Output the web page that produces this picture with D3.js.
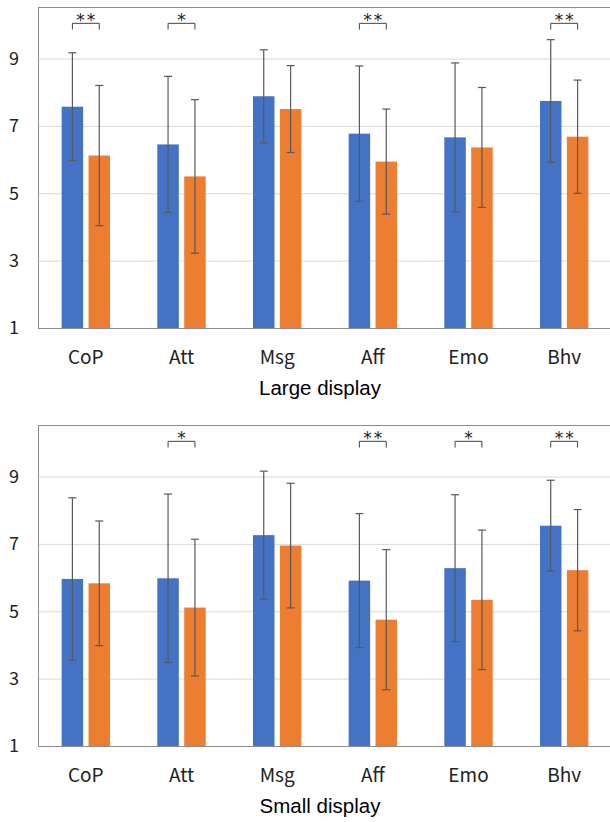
<!DOCTYPE html>
<html>
<head>
<meta charset="utf-8">
<script src="https://cdn.jsdelivr.net/npm/d3@7"></script>
<style>
  html, body { margin: 0; padding: 0; background: #fff; }
  svg { display: block; }
</style>
</head>
<body>
<svg id="chart" width="610" height="822"></svg>
<script>
const categories = ["CoP", "Att", "Msg", "Aff", "Emo", "Bhv"];
const yTicks = [1, 3, 5, 7, 9];

// Large display
const largeBlue = [7.57, 6.45, 7.88, 6.77, 6.66, 7.74];
const largeBlueSd = [1.6, 2.02, 1.38, 2.01, 2.21, 1.82];
const largeOrange = [6.12, 5.5, 7.5, 5.94, 6.36, 6.68];
const largeOrangeSd = [2.08, 2.28, 1.29, 1.56, 1.78, 1.68];
const largeSig = ["**", "*", "", "**", "", "**"];

// Small display
const smallBlue = [5.96, 5.98, 7.26, 5.91, 6.28, 7.54];
const smallBlueSd = [2.41, 2.5, 1.9, 1.99, 2.18, 1.35];
const smallOrange = [5.83, 5.11, 6.95, 4.75, 5.34, 6.22];
const smallOrangeSd = [1.85, 2.03, 1.85, 2.08, 2.07, 1.8];
const smallSig = ["", "*", "", "**", "*", "**"];

const colors = {blue: "#4472C4", orange: "#ED7D31"};

const svg = d3.select("#chart");

const drawPanel = (top, title, blue, blueSd, orange, orangeSd, sig) => {
  const plot = {left: 38, right: 612, top: top, bottom: top + 321};

  const x = d3.scaleBand()
    .domain(categories)
    .range([plot.left, plot.right]);
  const xInner = d3.scaleBand()
    .domain(["blue", "orange"])
    .range([0, x.step()])
    .paddingInner(0.2)
    .paddingOuter(0.88);
  const y = d3.scaleLinear()
    .domain([1, 10.53])
    .range([plot.bottom, plot.top]);

  const g = svg.append("g").attr("class", "panel");

  // gridlines
  g.selectAll(".grid")
    .data(yTicks.filter((t) => t > 1))
    .enter()
    .append("line")
      .attr("class", "grid")
      .attr("x1", plot.left)
      .attr("x2", plot.right)
      .attr("y1", (d) => y(d) + 0.5)
      .attr("y2", (d) => y(d) + 0.5)
      .attr("stroke", "#D9D9D9")
      .attr("stroke-width", 1);

  // frame
  g.append("rect")
    .attr("x", plot.left + 0.5)
    .attr("y", plot.top + 0.5)
    .attr("width", plot.right - plot.left)
    .attr("height", plot.bottom - plot.top)
    .attr("fill", "none")
    .attr("stroke", "#8C8C8C")
    .attr("stroke-width", 1);

  // y tick labels
  g.selectAll(".ytick")
    .data(yTicks)
    .enter()
    .append("text")
      .attr("class", "ytick")
      .attr("x", 14)
      .attr("y", (d) => y(d))
      .attr("dy", "0.36em")
      .attr("text-anchor", "middle")
      .attr("font-family", "'Noto Sans CJK JP', 'Noto Sans', sans-serif")
      .attr("font-size", 18)
      .attr("fill", "#222")
      .text((d) => d);

  const rows = categories.map((c, i) => [
    {cat: c, key: "blue", value: blue[i], sd: blueSd[i]},
    {cat: c, key: "orange", value: orange[i], sd: orangeSd[i]},
  ]).flat();

  const cx = (d) => x(d.cat) + xInner(d.key) + xInner.bandwidth() / 2;

  g.selectAll(".bar")
    .data(rows)
    .enter()
    .append("rect")
      .attr("class", "bar")
      .attr("x", (d) => x(d.cat) + xInner(d.key))
      .attr("y", (d) => y(d.value))
      .attr("width", xInner.bandwidth())
      .attr("height", (d) => y(1) - y(d.value))
      .attr("fill", (d) => colors[d.key]);

  // error bars
  const err = g.selectAll(".err")
    .data(rows)
    .enter()
    .append("g")
      .attr("class", "err")
      .attr("stroke", "#595959")
      .attr("stroke-width", 1.2);
  err.append("line")
    .attr("x1", cx).attr("x2", cx)
    .attr("y1", (d) => y(d.value + d.sd))
    .attr("y2", (d) => y(d.value - d.sd));
  err.append("line")
    .attr("x1", (d) => cx(d) - 4).attr("x2", (d) => cx(d) + 4)
    .attr("y1", (d) => y(d.value + d.sd))
    .attr("y2", (d) => y(d.value + d.sd));
  err.append("line")
    .attr("x1", (d) => cx(d) - 4).attr("x2", (d) => cx(d) + 4)
    .attr("y1", (d) => y(d.value - d.sd))
    .attr("y2", (d) => y(d.value - d.sd));

  // significance brackets
  const marks = categories
    .map((c, i) => ({cat: c, label: sig[i]}))
    .filter((d) => d.label !== "");
  const bracket = g.selectAll(".sig")
    .data(marks)
    .enter()
    .append("g")
      .attr("class", "sig");
  const left = (d) => cx({cat: d.cat, key: "blue"});
  const right = (d) => cx({cat: d.cat, key: "orange"});
  bracket.append("path")
    .attr("d", (d) => "M" + left(d) + "," + y(9.86) +
      "V" + (y(10.06) + 0.5) + "H" + right(d) + "V" + y(9.86))
    .attr("fill", "none")
    .attr("stroke", "#444")
    .attr("stroke-width", 1);
  bracket.append("text")
    .attr("x", (d) => (left(d) + right(d)) / 2 + 1)
    .attr("y", y(10.06) + 3)
    .attr("text-anchor", "middle")
    .attr("font-family", "'DejaVu Sans', sans-serif")
    .attr("font-size", 17)
    .attr("letter-spacing", 2)
    .attr("fill", "#222")
    .text((d) => d.label);

  // category labels
  g.selectAll(".xtick")
    .data(categories)
    .enter()
    .append("text")
      .attr("class", "xtick")
      .attr("x", (d) => x(d) + x.step() / 2)
      .attr("y", plot.bottom + 29)
      .attr("dy", "0.36em")
      .attr("text-anchor", "middle")
      .attr("font-family", "'Noto Sans CJK JP', 'Noto Sans', sans-serif")
      .attr("font-size", 19)
      .attr("fill", "#222")
      .text((d) => d);

  g.append("text")
    .attr("x", 320)
    .attr("y", plot.bottom + 60)
    .attr("dy", "0.36em")
    .attr("text-anchor", "middle")
    .attr("font-family", "'Liberation Sans', Arial, sans-serif")
    .attr("font-size", 20.5)
    .attr("fill", "#000")
    .text(title);
};

drawPanel(7, "Large display", largeBlue, largeBlueSd, largeOrange, largeOrangeSd, largeSig);
drawPanel(425, "Small display", smallBlue, smallBlueSd, smallOrange, smallOrangeSd, smallSig);
</script>
</body>
</html>
